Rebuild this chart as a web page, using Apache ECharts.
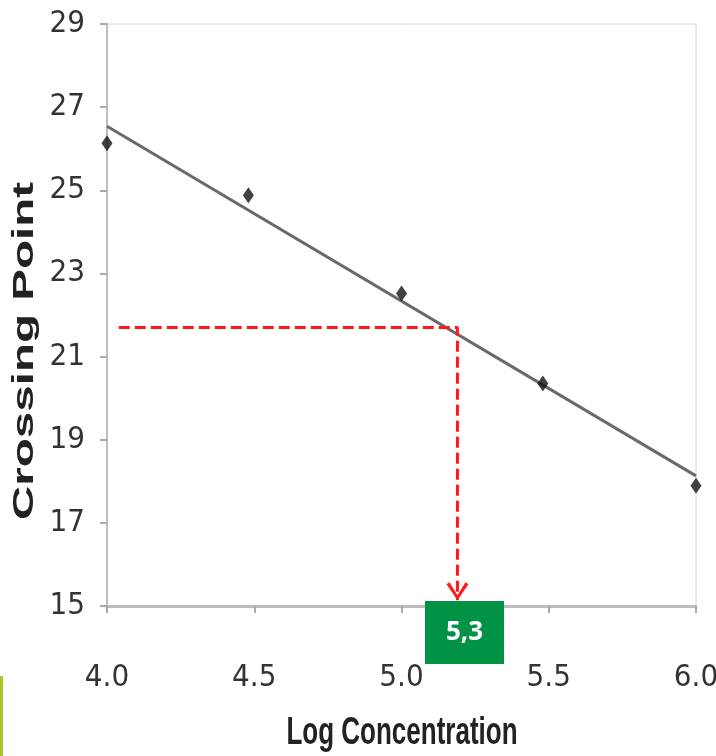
<!DOCTYPE html>
<html>
<head>
<meta charset="utf-8">
<script src="https://cdn.jsdelivr.net/npm/echarts@6/dist/echarts.min.js"></script>
<style>
  html, body { margin: 0; padding: 0; background: #fff; }
  #box { width: 716px; height: 756px; }
</style>
</head>
<body>
<div id="box"></div>
<script>
// measured points
var logConc = [4.0, 4.48, 5.0, 5.48, 6.0];
var crossing = [26.13, 24.88, 22.52, 20.35, 17.89];

// fitted line ends
var fitX = [4.0, 6.0];
var fitY = [26.54, 18.13];

// red guide (read Ct -> log conc)
var guideX = [4.04, 5.19, 5.19];
var guideY = [21.7, 21.7, 15.14];

var xTicks = [4.0, 4.5, 5.0, 5.5, 6.0];
var yTicks = [15, 17, 19, 21, 23, 25, 27, 29];
var xTitle = 'Log Concentration';
var yTitle = 'Crossing Point';
var resultLabel = '5,3';

function pairs(xs, ys) {
	var out = [];
	for (var i = 0; i < xs.length; i++) {
		out.push([xs[i], ys[i]]);
	}
	return out;
}

// last point of the guide gets the arrow head
var guideData = pairs(guideX, guideY).map(function (p, i) {
	if (i === guideX.length - 1) {
		return {
			value: p,
			symbol: 'path://M0,2 L3,0 L11,13 L19,0 L22,2 L11,18 Z',
			symbolSize: [22, 18],
			symbolOffset: [0, -9]
		};
	}
	return { value: p, symbol: 'none' };
});

var myChart = echarts.init(document.getElementById('box'));
var tickFont = '"DejaVu Sans Condensed", "Liberation Sans", sans-serif';
var option = {
	animation: false,
	grid: {
		left: 107,
		top: 24,
		right: 20,
		bottom: 150,
		outerBoundsMode: 'none',
		containLabel: false,
		show: true,
		borderColor: '#d4d4d4',
		borderWidth: 1
	},
	xAxis: {
		type: 'value',
		min: xTicks[0],
		max: xTicks[xTicks.length - 1],
		interval: 0.5,
		axisLine: { onZero: false, lineStyle: { color: '#bdbdbd', width: 3 } },
		axisTick: { show: true, length: 7, lineStyle: { color: '#aaa', width: 2 } },
		axisLabel: {
			margin: 56,
			fontFamily: tickFont,
			fontSize: 31,
			color: '#333',
			formatter: function (v) { return v.toFixed(1); }
		},
		splitLine: { show: false }
	},
	yAxis: {
		type: 'value',
		min: yTicks[0],
		max: yTicks[yTicks.length - 1],
		interval: 2,
		axisLine: { onZero: false, lineStyle: { color: '#bdbdbd', width: 2 } },
		axisTick: { show: true, length: 7, lineStyle: { color: '#aaa', width: 2 } },
		axisLabel: {
			margin: 22,
			fontFamily: tickFont,
			fontSize: 31,
			color: '#333'
		},
		splitLine: { show: false }
	},
	series: [
		{
			name: 'fit',
			type: 'line',
			data: pairs(fitX, fitY),
			symbol: 'none',
			lineStyle: { color: '#6a6a6a', width: 3 },
			z: 2
		},
		{
			name: 'guide',
			type: 'line',
			data: guideData,
			lineStyle: { color: '#ff1a1a', width: 3, type: [11, 5] },
			itemStyle: { color: '#ff1a1a' },
			z: 3
		},
		{
			name: 'points',
			type: 'scatter',
			data: pairs(logConc, crossing),
			symbol: 'diamond',
			symbolSize: [11, 16],
			itemStyle: { color: '#111' },
			z: 4
		}
	],
	graphic: [
		// axis titles, stretched like the source image
		{
			type: 'text',
			x: 402,
			y: 753,
			scaleY: 1.5,
			style: {
				text: xTitle,
				fill: '#222',
				font: 'bold 26px "Liberation Sans"',
				align: 'center',
				verticalAlign: 'bottom'
			}
		},
		{
			type: 'text',
			x: 39,
			y: 351,
			rotation: Math.PI / 2,
			scaleX: 1.64,
			style: {
				text: yTitle,
				fill: '#222',
				font: 'bold 29px "Liberation Sans"',
				align: 'center',
				verticalAlign: 'bottom'
			}
		},
		{
			type: 'rect',
			shape: { x: 425, y: 601, width: 79, height: 63 },
			style: { fill: '#009245' },
			z: 100
		},
		{
			type: 'text',
			x: 464.5,
			y: 633,
			style: {
				text: resultLabel,
				fill: '#fff',
				font: 'bold 26px "Open Sans"',
				align: 'center',
				verticalAlign: 'middle'
			},
			z: 101
		},
		{
			type: 'rect',
			shape: { x: 0, y: 676, width: 3, height: 80 },
			style: { fill: '#a8c62a' },
			z: 100
		}
	]
};
myChart.setOption(option);
</script>
</body>
</html>
